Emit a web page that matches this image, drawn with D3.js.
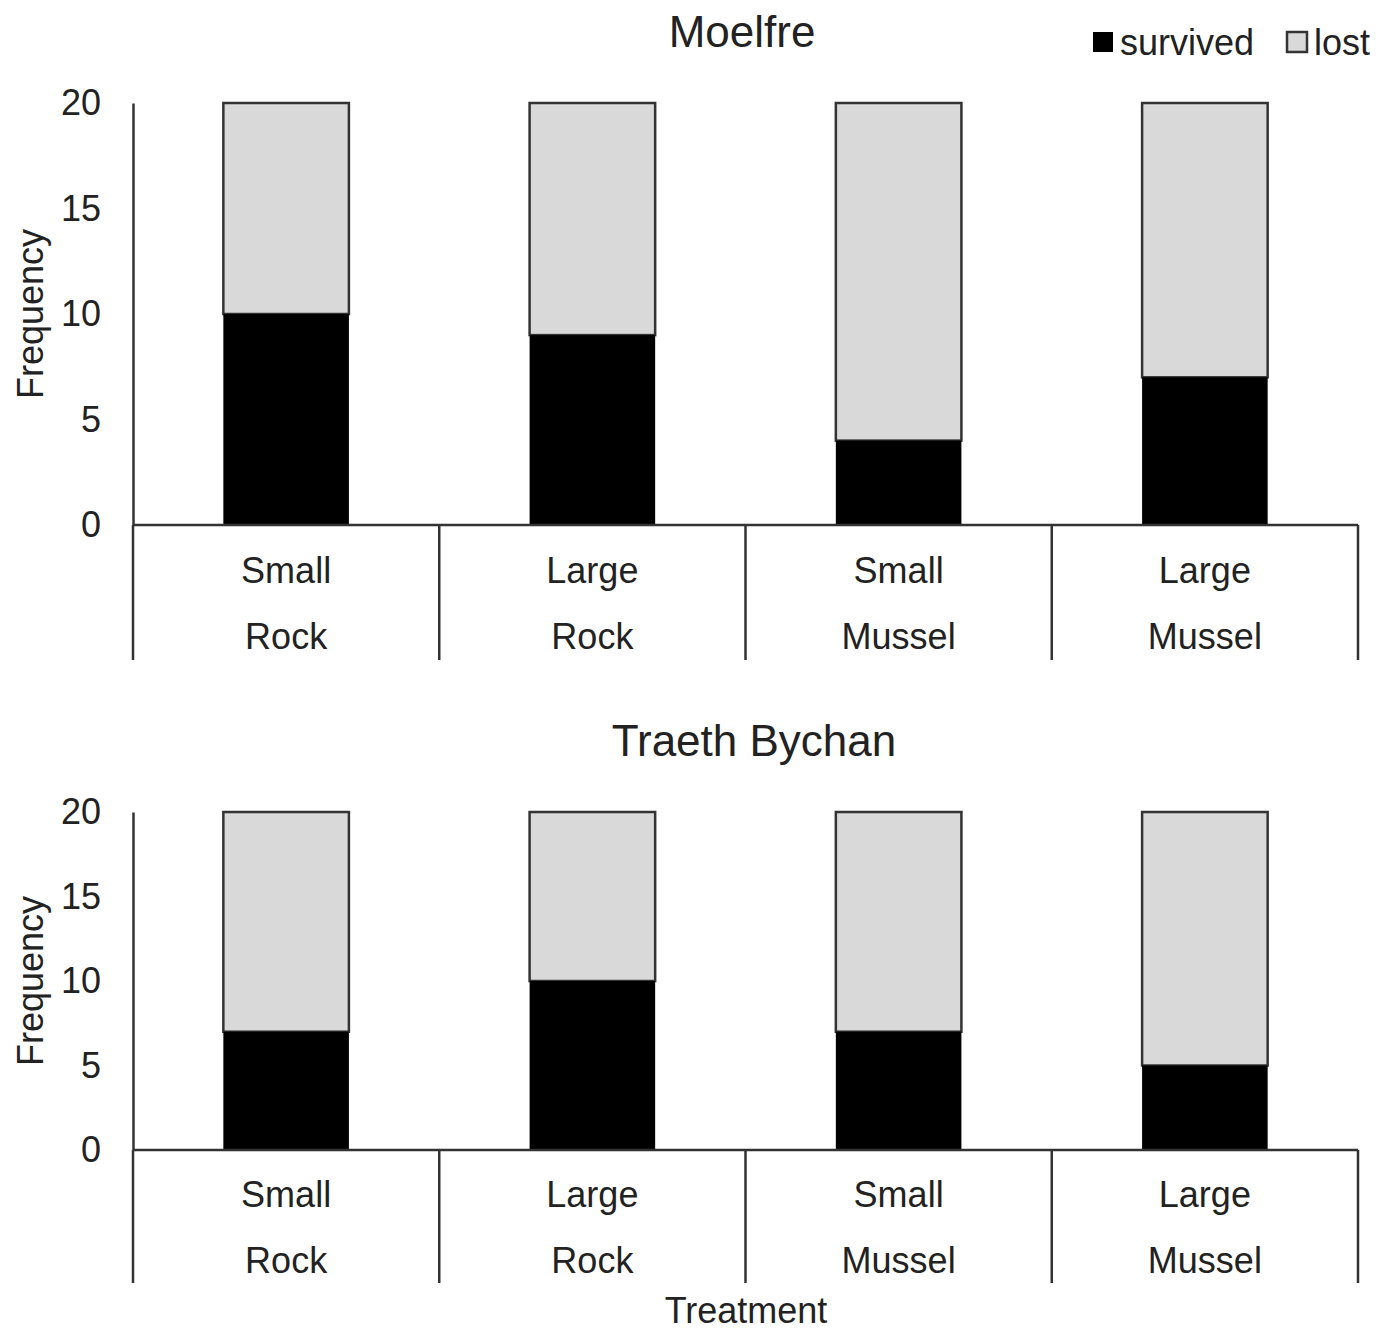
<!DOCTYPE html>
<html>
<head>
<meta charset="utf-8">
<script src="https://cdn.jsdelivr.net/npm/d3@7"></script>
<style>
  body { margin: 0; background: #fff; }
  text { font-family: "Liberation Sans", Arial, sans-serif; fill: #222; }
</style>
</head>
<body>
<div id="chart"></div>
<script>
// data
const sizes = ["Small", "Large", "Small", "Large"];
const substrates = ["Rock", "Rock", "Mussel", "Mussel"];
const sites = ["Moelfre", "Traeth Bychan"];
const survivedMoelfre = [10, 9, 4, 7];
const survivedTraeth = [7, 10, 7, 5];
const totalPerTreatment = [20, 20, 20, 20];
const yTicks = [0, 5, 10, 15, 20];
const seriesNames = ["survived", "lost"];

// constants
const w = 1390;
const h = 1331;
const left = 133;
const right = 1358;
const fontSize = 36;
const lostColor = "#d9d9d9";
const lineColor = "#333";

const panels = [
  { site: sites[0], survived: survivedMoelfre, titleX: 742, titleY: 32, top: 103, bottom: 525, sepBottom: 660, line1: 570, line2: 636 },
  { site: sites[1], survived: survivedTraeth, titleX: 754, titleY: 741, top: 812, bottom: 1150, sepBottom: 1283, line1: 1194, line2: 1260 }
];

const svg = d3.select("#chart")
  .append("svg")
  .attr("width", w)
  .attr("height", h);

const keys = sizes.map((s, i) => i);
const xScale = d3.scaleBand()
  .domain(keys)
  .range([left, right])
  .paddingInner(0)
  .paddingOuter(0);
const barW = xScale.bandwidth() * 0.41;

panels.forEach((p) => {
  const g = svg.append("g");
  const yScale = d3.scaleLinear().domain([0, 20]).range([p.bottom, p.top]);

  // title
  g.append("text")
    .attr("x", p.titleX)
    .attr("y", p.titleY)
    .attr("dy", "0.35em")
    .attr("text-anchor", "middle")
    .style("font-size", "44px")
    .text(p.site);

  // y axis
  const yAxis = d3.axisLeft(yScale)
    .tickValues(yTicks)
    .tickSize(0)
    .tickPadding(32);
  const ya = g.append("g")
    .attr("transform", `translate(${left},0)`)
    .call(yAxis);
  ya.select(".domain").attr("stroke", lineColor).attr("stroke-width", 2.5);
  ya.selectAll("text").style("font-size", fontSize + "px").attr("fill", "#222");

  // y label
  g.append("text")
    .attr("transform", `translate(30,${(p.top + p.bottom) / 2}) rotate(-90)`)
    .attr("text-anchor", "middle")
    .attr("dy", "0.35em")
    .style("font-size", fontSize + "px")
    .text("Frequency");

  // lost bars (full height)
  g.selectAll(".lost")
    .data(keys)
    .enter()
    .append("rect")
    .attr("class", "lost")
    .attr("x", (d) => xScale(d) + xScale.bandwidth() / 2 - barW / 2)
    .attr("y", (d) => yScale(totalPerTreatment[d]))
    .attr("width", barW)
    .attr("height", (d) => yScale(p.survived[d]) - yScale(totalPerTreatment[d]))
    .attr("fill", lostColor)
    .attr("stroke", lineColor)
    .attr("stroke-width", 2.5);

  // survived bars
  g.selectAll(".survived")
    .data(keys)
    .enter()
    .append("rect")
    .attr("class", "survived")
    .attr("x", (d) => xScale(d) + xScale.bandwidth() / 2 - barW / 2)
    .attr("y", (d) => yScale(p.survived[d]))
    .attr("width", barW)
    .attr("height", (d) => yScale(0) - yScale(p.survived[d]))
    .attr("fill", "#000");

  // x axis line
  g.append("line")
    .attr("x1", left)
    .attr("x2", right)
    .attr("y1", yScale(0))
    .attr("y2", yScale(0))
    .attr("stroke", lineColor)
    .attr("stroke-width", 2.5);

  // category separators
  const bounds = keys.map((d) => xScale(d)).concat([right]);
  g.selectAll(".sep")
    .data(bounds)
    .enter()
    .append("line")
    .attr("x1", (d) => d)
    .attr("x2", (d) => d)
    .attr("y1", yScale(0))
    .attr("y2", p.sepBottom)
    .attr("stroke", lineColor)
    .attr("stroke-width", 2.5);

  // category labels
  const cx = (d) => xScale(d) + xScale.bandwidth() / 2;
  g.selectAll(".lab1")
    .data(keys)
    .enter()
    .append("text")
    .attr("x", cx)
    .attr("y", p.line1)
    .attr("dy", "0.35em")
    .attr("text-anchor", "middle")
    .style("font-size", fontSize + "px")
    .text((d) => sizes[d]);
  g.selectAll(".lab2")
    .data(keys)
    .enter()
    .append("text")
    .attr("x", cx)
    .attr("y", p.line2)
    .attr("dy", "0.35em")
    .attr("text-anchor", "middle")
    .style("font-size", fontSize + "px")
    .text((d) => substrates[d]);
});

// x label
svg.append("text")
  .attr("x", 746)
  .attr("y", 1310)
  .attr("dy", "0.35em")
  .attr("text-anchor", "middle")
  .style("font-size", fontSize + "px")
  .text("Treatment");

// legend
const legend = svg.append("g").attr("transform", "translate(1093,42)");
const legendX = [0, 194];
const legendFill = ["#000", lostColor];
seriesNames.forEach((name, i) => {
  legend.append("rect")
    .attr("x", legendX[i])
    .attr("y", -10)
    .attr("width", 20)
    .attr("height", 20)
    .attr("fill", legendFill[i])
    .attr("stroke", i === 1 ? lineColor : "none")
    .attr("stroke-width", 2.5);
  legend.append("text")
    .attr("x", legendX[i] + 27)
    .attr("y", 0)
    .attr("dy", "0.35em")
    .style("font-size", fontSize + "px")
    .text(name);
});
</script>
</body>
</html>
